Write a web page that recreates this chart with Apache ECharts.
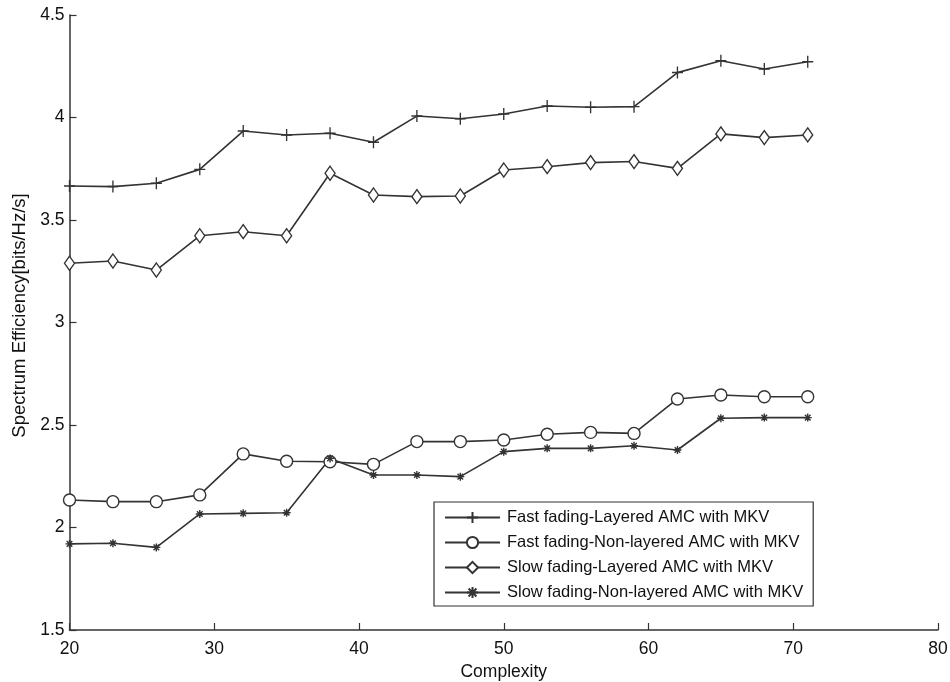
<!DOCTYPE html>
<html>
<head>
<meta charset="utf-8">
<script src="https://cdn.jsdelivr.net/npm/echarts@6/dist/echarts.min.js"></script>
<style>
html,body{margin:0;padding:0;background:#fff;}
#chart{width:950px;height:682px;}
</style>
</head>
<body>
<div id="chart"></div>
<script>
// ---- data ----
const complexity = [20, 23, 26, 29, 32, 35, 38, 41, 44, 47, 50, 53, 56, 59, 62, 65, 68, 71];
const fastLayered = [3.666, 3.663, 3.679, 3.747, 3.934, 3.915, 3.923, 3.879, 4.007, 3.994, 4.017, 4.056, 4.050, 4.053, 4.219, 4.277, 4.237, 4.272];
const fastNonLayered = [2.134, 2.126, 2.126, 2.159, 2.359, 2.323, 2.321, 2.308, 2.419, 2.419, 2.427, 2.455, 2.464, 2.459, 2.627, 2.646, 2.638, 2.638];
const slowLayered = [3.289, 3.300, 3.256, 3.423, 3.443, 3.423, 3.728, 3.622, 3.614, 3.617, 3.744, 3.760, 3.780, 3.785, 3.752, 3.920, 3.902, 3.915];
const slowNonLayered = [1.920, 1.923, 1.903, 2.066, 2.069, 2.072, 2.337, 2.256, 2.256, 2.248, 2.370, 2.386, 2.386, 2.399, 2.378, 2.533, 2.536, 2.536];
const seriesNames = [
  'Fast fading-Layered AMC with MKV',
  'Fast fading-Non-layered AMC with MKV',
  'Slow fading-Layered AMC with MKV',
  'Slow fading-Non-layered AMC with MKV'
];
const xTicks = {min: 20, max: 80, interval: 10};
const yTicks = {min: 1.5, max: 4.5, interval: 0.5};

const FONT = "'Liberation Sans', Arial, sans-serif";
const INK = '#333';
const TXT = '#111';

function pairs(vals) { return complexity.map((x, i) => [x, vals[i]]); }

const plusPath = 'path://M5,0 L5,10 M0,5 L10,5';
const starPath = 'path://M5,0 L5,10 M0,5 L10,5 M1.5,1.5 L8.5,8.5 M1.5,8.5 L8.5,1.5';

function mk(name, vals, symbol, size, fill) {
  return {
    name: name,
    type: 'line',
    data: pairs(vals),
    symbol: symbol,
    symbolSize: size,
    showAllSymbol: true,
    animation: false,
    lineStyle: {color: INK, width: 1.6},
    itemStyle: {color: fill, borderColor: INK, borderWidth: 1.4},
    emphasis: {disabled: true}
  };
}

const chart = echarts.init(document.getElementById('chart'), null, {renderer: 'canvas'});
chart.setOption({
  backgroundColor: '#fff',
  animation: false,
  textStyle: {fontFamily: FONT},
  grid: {left: 69.5, right: 12, top: 15, bottom: 52, containLabel: false, outerBoundsMode: 'none'},
  xAxis: {
    type: 'value',
    min: xTicks.min, max: xTicks.max, interval: xTicks.interval,
    name: 'Complexity',
    nameLocation: 'middle',
    nameGap: 29,
    nameTextStyle: {fontFamily: FONT, fontSize: 17.5, color: TXT},
    axisLine: {show: true, onZero: false, lineStyle: {color: INK, width: 1.5}},
    axisTick: {show: true, inside: true, length: 7, lineStyle: {color: INK, width: 1.2}},
    axisLabel: {fontFamily: FONT, fontSize: 17.5, color: TXT, margin: 10},
    splitLine: {show: false}
  },
  yAxis: {
    type: 'value',
    min: yTicks.min, max: yTicks.max, interval: yTicks.interval,
    name: 'Spectrum Efficiency[bits/Hz/s]',
    nameLocation: 'middle',
    nameGap: 40,
    nameTextStyle: {fontFamily: FONT, fontSize: 18.5, color: TXT, padding: [0, 0, 0, 14]},
    axisLine: {show: true, onZero: false, lineStyle: {color: INK, width: 1.5}},
    axisTick: {show: true, inside: true, length: 7, lineStyle: {color: INK, width: 1.2}},
    axisLabel: {fontFamily: FONT, fontSize: 17.5, color: TXT, margin: 5},
    splitLine: {show: false}
  },
  legend: {
    orient: 'vertical',
    left: 434,
    top: 502,
    width: 381,
    padding: [7, 10, 5, 10],
    itemGap: 8,
    itemWidth: 55,
    itemHeight: 14,
    borderColor: INK,
    borderWidth: 1.2,
    backgroundColor: '#fff',
    textStyle: {fontFamily: FONT, fontSize: 16.5, color: TXT, padding: [0, 0, 0, 2]},
    data: seriesNames
  },
  series: [
    mk(seriesNames[0], fastLayered, plusPath, [11, 12], INK),
    mk(seriesNames[1], fastNonLayered, 'circle', 12, '#fff'),
    mk(seriesNames[2], slowLayered, 'diamond', [10, 14], '#fff'),
    mk(seriesNames[3], slowNonLayered, starPath, 8, INK)
  ]
});
</script>
</body>
</html>
